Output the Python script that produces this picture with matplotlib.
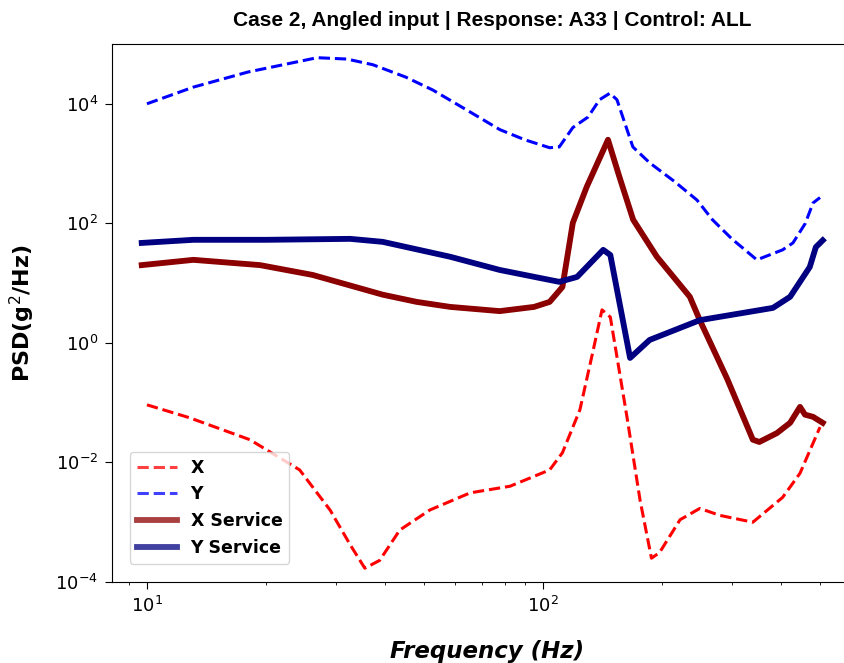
import matplotlib
matplotlib.use("Agg")
import matplotlib.pyplot as plt
from matplotlib.ticker import NullLocator

# Data
y_freq = [10, 13.1, 18, 26.9, 32, 37.2, 45, 52.7, 65, 77.8, 90, 104, 110, 119, 130, 139, 147.6, 153.8, 168.7, 186, 215, 245, 268, 300, 347, 403, 428, 460, 481, 501]
y_psd = [1.0e4, 1.9e4, 3.4e4, 5.9e4, 5.6e4, 4.5e4, 2.8e4, 1.7e4, 7.5e3, 3.7e3, 2.5e3, 1.84e3, 1.9e3, 4.0e3, 6.0e3, 1.17e4, 1.5e4, 1.17e4, 1.9e3, 1.03e3, 5.0e2, 2.45e2, 1.15e2, 5.5e1, 2.45e1, 3.6e1, 4.7e1, 1.0e2, 2.19e2, 2.7e2]

x_freq = [10, 12.8, 18.2, 24.3, 29, 32.6, 35.5, 38.7, 43.5, 51.8, 65.5, 82.6, 104, 112, 124, 134, 141, 148, 163, 176, 188, 197, 222, 249, 280, 339, 403, 446, 501]
x_psd = [0.092, 0.056, 0.024, 0.0075, 1.6e-3, 4.2e-4, 1.7e-4, 2.3e-4, 7.4e-4, 1.6e-3, 3.1e-3, 4.0e-3, 7.5e-3, 0.0145, 0.076, 0.76, 3.57, 2.7, 0.058, 2.3e-3, 2.5e-4, 3.1e-4, 1.1e-3, 1.7e-3, 1.3e-3, 1.0e-3, 2.6e-3, 6.6e-3, 0.039]

xs_freq = [9.7, 13.1, 19.3, 26.2, 39.4, 48, 58.3, 77.8, 95, 104, 112, 119, 129, 146, 156, 169, 194, 235, 249, 292, 339, 352, 390, 421, 446, 459, 481, 509]
xs_psd = [20, 24.5, 20, 13.7, 6.4, 4.85, 4.0, 3.4, 4.0, 4.85, 8.6, 102, 407, 2500, 600, 115, 27.6, 5.9, 2.4, 0.25, 0.024, 0.022, 0.031, 0.046, 0.085, 0.063, 0.058, 0.046]

ys_freq = [9.7, 13.1, 20, 32.6, 39.4, 58.3, 77.8, 104, 110, 122, 142, 148, 166, 186, 249, 381, 421, 472, 489, 509]
ys_psd = [47, 53, 53, 55, 49, 27.6, 16.6, 11.3, 10.5, 12.7, 36, 29.5, 0.56, 1.12, 2.4, 3.85, 5.9, 18.6, 40, 52]

title = "Case 2, Angled input | Response: A33 | Control: ALL"

fig = plt.figure(figsize=(8.45, 6.63), dpi=100)
ax = fig.add_axes([112/845, (663-582)/663, (870-112)/845, (582-44)/663])

ax.plot(x_freq, x_psd, color="red", ls="--", lw=2.2, label="X")
ax.plot(y_freq, y_psd, color="blue", ls="--", lw=2.2, label="Y")
ax.plot(xs_freq, xs_psd, color="darkred", lw=4.2, label="X Service")
ax.plot(ys_freq, ys_psd, color="navy", lw=4.2, label="Y Service")

ax.set_xscale("log")
ax.set_yscale("log")
ax.set_xlim(8.16, 670)
ax.set_ylim(1e-4, 1e5)
ax.set_yticks([1e-4, 1e-2, 1e0, 1e2, 1e4])
ax.yaxis.set_minor_locator(NullLocator())
ax.tick_params(labelsize=13)
ax.tick_params(which="major", length=5, pad=5)

ax.set_xlabel("Frequency (Hz)", fontsize=16.5, fontweight="bold", style="italic")
ax.xaxis.set_label_coords(0.495, -0.108)
ax.set_ylabel("PSD(g$^2$/Hz)", fontsize=16, fontweight="bold")
ax.yaxis.set_label_coords(-0.099, 0.5)
fig.text(492/845, 1 - 20/663, title, ha="center", va="center",
         fontsize=15, fontweight="bold", family=["Liberation Sans", "DejaVu Sans"])

leg = ax.legend(loc="lower left", prop={"weight": "bold", "size": 12.5},
                bbox_to_anchor=(0.012, 0.018), handlelength=2.3)
for h in leg.get_lines():
    h.set_alpha(0.75)

fig.savefig("out.png", dpi=100)
